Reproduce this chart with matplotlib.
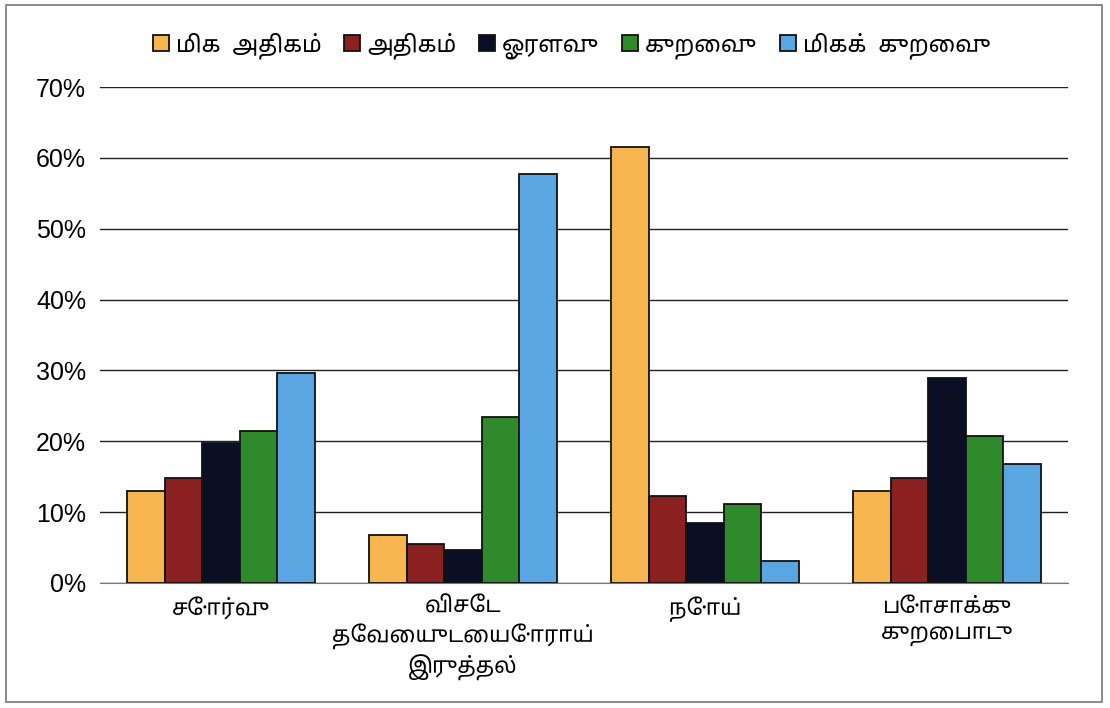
import matplotlib
matplotlib.use("Agg")
import matplotlib.pyplot as plt
import numpy as np
from matplotlib.patches import Rectangle

categories = ["சோர்வு", "விசேட\nதேவையுடையோராய்\nஇருத்தல்", "நோய்", "போசாக்கு\nகுறைபாடு"]
series_names = ["மிக  அதிகம்", "அதிகம்", "ஓரளவு", "குறைவு", "மிகக்  குறைவு"]
mika_athikam = [13.0, 6.8, 61.5, 13.0]
athikam = [14.8, 5.5, 12.3, 14.8]
oralavu = [19.7, 4.6, 8.5, 29.0]
kuraivu = [21.5, 23.4, 11.1, 20.8]
mika_kuraivu = [29.6, 57.7, 3.1, 16.8]
y_ticks = [0, 10, 20, 30, 40, 50, 60, 70]

colors = ["#F6B54E", "#8A2020", "#0B0F26", "#2F8A2C", "#5AA6E2"]
series = [mika_athikam, athikam, oralavu, kuraivu, mika_kuraivu]

tamil = ["Noto Sans Tamil", "Lohit Tamil", "Latha", "DejaVu Sans"]

fig = plt.figure(figsize=(11.1, 7.08), dpi=100)
fig.patch.set_facecolor("white")
fig.add_artist(Rectangle((0.005, 0.008), 0.988, 0.985, transform=fig.transFigure,
                         fill=False, edgecolor="#777777", linewidth=1.2))
ax = fig.add_axes([0.09, 0.1766, 0.872, 0.7004])

x = np.arange(len(categories))
w = 0.155
for i, (vals, c) in enumerate(zip(series, colors)):
    ax.bar(x + (i - 2) * w, vals, width=w, color=c, edgecolor="#111111",
           linewidth=1.3, label=series_names[i], zorder=3)

ax.set_ylim(0, 70)
ax.set_xlim(-0.5, 3.5)
ax.set_yticks(y_ticks)
ax.set_yticklabels([f"{t}%" for t in y_ticks], fontsize=18, family="Liberation Sans")
ax.yaxis.grid(True, color="#222222", linewidth=1.0, zorder=0)
ax.set_axisbelow(True)
ax.tick_params(axis="y", length=0, pad=10)
ax.tick_params(axis="x", length=0, pad=10)
ax.set_xticks(x)
ax.set_xticklabels(categories, fontsize=16, family=tamil, linespacing=1.3)
for s in ["top", "right", "left"]:
    ax.spines[s].set_visible(False)
ax.spines["bottom"].set_color("#777777")

leg = fig.legend(loc="center", bbox_to_anchor=(0.515, 0.936), ncol=5, frameon=False,
                 prop={"family": tamil, "size": 16.5}, handlelength=0.7, handleheight=0.7,
                 handletextpad=0.3, columnspacing=1.0)

fig.savefig("out.png", dpi=100, facecolor="white")
